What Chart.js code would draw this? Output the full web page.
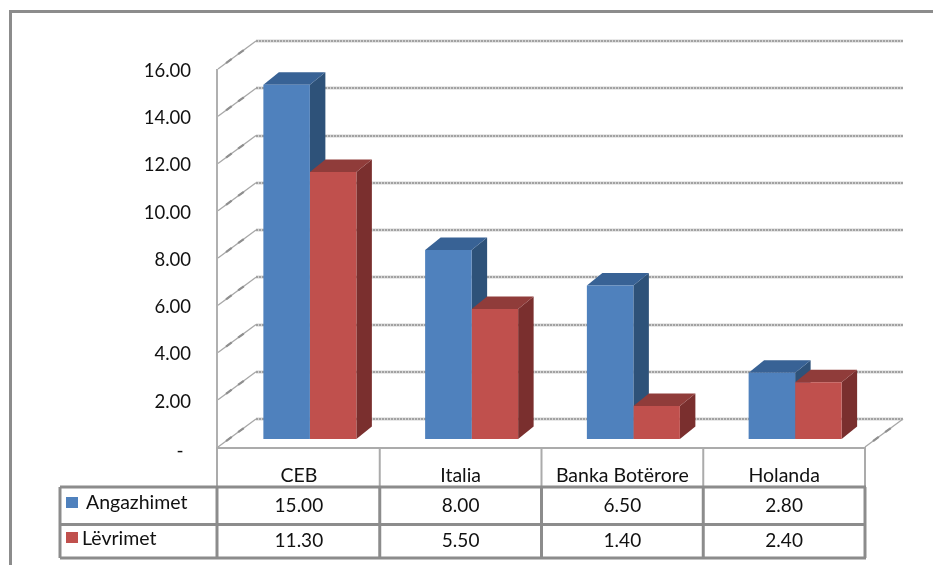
<!DOCTYPE html>
<html>
<head>
<meta charset="utf-8">
<title>Angazhimet dhe Lëvrimet</title>
<script src="https://cdn.jsdelivr.net/npm/chart.js@4/dist/chart.umd.min.js"></script>
<style>
  html, body { margin: 0; padding: 0; background: #fff; }
  #wrap { width: 933px; height: 565px; }
</style>
</head>
<body>
<div id="wrap"><canvas id="chart" width="933" height="565"></canvas></div>
<script>
const categories = ['CEB', 'Italia', 'Banka Botërore', 'Holanda'];
const seriesNames = ['Angazhimet', 'Lëvrimet'];
const angazhimet = [15.00, 8.00, 6.50, 2.80];
const levrimet = [11.30, 5.50, 1.40, 2.40];
const yTicks = [0, 2, 4, 6, 8, 10, 12, 14, 16];

const FAMILY = 'Lato, sans-serif';
const TEXT = '#111';
const fmt = (v) => v.toFixed(2);

// colours: front, side, top
const blue = { front: '#4F81BD', side: '#2E5279', top: '#386295' };
const red = { front: '#C0504D', side: '#7A2F2E', top: '#903C3A' };

// 3d offsets
const WALL = { x: 38, y: -28 };      // back wall vs front plane
const BAR_SHIFT = { x: 11, y: -8 };  // bars sit a little into the floor
const DEPTH = { x: 15.5, y: -12.5 }; // depth of a bar

function line(ctx, x1, y1, x2, y2) {
  ctx.beginPath();
  ctx.moveTo(x1, y1);
  ctx.lineTo(x2, y2);
  ctx.stroke();
}

// floor/side diagonal: thin light line with the two darker smudges
function diagonal(ctx, x1, y1, x2, y2) {
  ctx.strokeStyle = '#a8a8a8';
  ctx.lineWidth = 1.4;
  ctx.setLineDash([]);
  line(ctx, x1, y1, x2, y2);
  ctx.strokeStyle = '#8f8f8f';
  ctx.lineWidth = 2.2;
  ctx.setLineDash([0, 10, 7, 8, 7, 100]);
  line(ctx, x1, y1, x2, y2);
  ctx.setLineDash([]);
}

const wallPlugin = {
  id: 'wall',
  beforeDraw(chart) {
    const { ctx, chartArea: a, scales: { y } } = chart;
    ctx.save();
    // outer frame of the picture
    ctx.strokeStyle = '#8c8c8c';
    ctx.lineWidth = 3;
    line(ctx, 10.5, 11.5, 933, 11.5);
    line(ctx, 10.5, 10, 10.5, 565);
    // back wall lines and the diagonals running to the axis
    yTicks.forEach((v) => {
      const py = y.getPixelForValue(v);
      const by = Math.round(py + WALL.y);
      ctx.strokeStyle = '#d4d4d4';
      ctx.lineWidth = 3;
      line(ctx, a.left + WALL.x, by, a.right + WALL.x, by);
      ctx.strokeStyle = '#a2a2a2';
      ctx.lineWidth = 2;
      ctx.setLineDash([2, 1]);
      line(ctx, a.left + WALL.x, by, a.right + WALL.x, by);
      ctx.setLineDash([]);
      diagonal(ctx, a.left, py, a.left + WALL.x, py + WALL.y);
    });
    const y0 = y.getPixelForValue(0);
    diagonal(ctx, a.right, y0, a.right + WALL.x, y0 + WALL.y);
    // value axis
    ctx.strokeStyle = '#b0b0b0';
    ctx.lineWidth = 2;
    line(ctx, a.left - 1, a.top, a.left - 1, a.bottom + 1);
    ctx.restore();
  }
};

const barPlugin = {
  id: 'bars3d',
  beforeDatasetsDraw(chart) {
    const { ctx } = chart;
    ctx.save();
    ctx.translate(BAR_SHIFT.x, BAR_SHIFT.y);
    [0, 1].forEach((d) => {
      const c = d === 0 ? blue : red;
      chart.getDatasetMeta(d).data.forEach((bar) => {
        const l = bar.x - bar.width / 2;
        const r = bar.x + bar.width / 2;
        // side face
        ctx.fillStyle = c.side;
        ctx.beginPath();
        ctx.moveTo(r, bar.y);
        ctx.lineTo(r + DEPTH.x, bar.y + DEPTH.y);
        ctx.lineTo(r + DEPTH.x, bar.base + DEPTH.y);
        ctx.lineTo(r, bar.base);
        ctx.closePath();
        ctx.fill();
        // top face
        ctx.fillStyle = c.top;
        ctx.beginPath();
        ctx.moveTo(l, bar.y);
        ctx.lineTo(l + DEPTH.x, bar.y + DEPTH.y);
        ctx.lineTo(r + DEPTH.x, bar.y + DEPTH.y);
        ctx.lineTo(r, bar.y);
        ctx.closePath();
        ctx.fill();
      });
    });
    // left translated for the library's own front faces
  },
  afterDatasetsDraw(chart) {
    chart.ctx.restore();
  }
};

const tablePlugin = {
  id: 'dataTable',
  afterDraw(chart) {
    const { ctx, chartArea: a, scales: { x } } = chart;
    const step = (a.right - a.left) / categories.length;
    const rows = [487, 524.5, 558];
    const tableLeft = 60;
    ctx.save();
    // upper row, lighter
    ctx.strokeStyle = '#ababab';
    ctx.lineWidth = 2;
    line(ctx, a.left - 1, a.bottom + 1, a.right, a.bottom + 1);
    for (let i = 0; i <= categories.length; i++) {
      const px = a.left + step * i - (i === 0 ? 1 : 0);
      line(ctx, px, a.bottom, px, rows[0]);
    }
    // value rows
    ctx.strokeStyle = '#8c8c8c';
    ctx.lineWidth = 3;
    rows.forEach((r) => line(ctx, tableLeft, r, a.right + 1, r));
    for (let i = 0; i <= categories.length; i++) {
      const px = a.left + step * i - (i === 0 ? 1 : 0);
      line(ctx, px, rows[0], px, rows[2]);
    }
    line(ctx, tableLeft, rows[0], tableLeft, rows[2]);
    // zero label of the value axis sits lower than the rest
    ctx.textBaseline = 'middle';
    ctx.textAlign = 'center';
    ctx.fillStyle = TEXT;
    ctx.font = '19px ' + FAMILY;
    ctx.fillText('-', 180, 451);
    // row headers with the colour keys
    ctx.textAlign = 'left';
    ctx.fillStyle = blue.front;
    ctx.fillRect(66, 497, 12, 11);
    ctx.fillStyle = red.front;
    ctx.fillRect(66, 532, 12, 11);
    ctx.fillStyle = TEXT;
    ctx.font = '19.5px ' + FAMILY;
    ctx.fillText(seriesNames[0], 86, 503);
    ctx.fillText(seriesNames[1], 82, 539);
    // values
    ctx.font = '19px ' + FAMILY;
    ctx.textAlign = 'center';
    [angazhimet, levrimet].forEach((vals, r) => {
      vals.forEach((v, i) => {
        ctx.fillText(fmt(v), x.getPixelForValue(i), r === 0 ? 505.5 : 540.5);
      });
    });
    ctx.restore();
  }
};

new Chart(document.getElementById('chart'), {
  type: 'bar',
  data: {
    labels: categories,
    datasets: [
      { label: seriesNames[0], data: angazhimet, backgroundColor: blue.front },
      { label: seriesNames[1], data: levrimet, backgroundColor: red.front }
    ]
  },
  options: {
    responsive: false,
    animation: false,
    layout: { padding: { left: 0, right: 68, top: 69, bottom: 0 } },
    datasets: { bar: { categoryPercentage: 0.575, barPercentage: 1, borderWidth: 0 } },
    plugins: { legend: { display: false }, tooltip: { enabled: false } },
    scales: {
      x: {
        grid: { display: false },
        border: { display: false },
        afterFit: (s) => { s.height = 118; },
        ticks: { font: { family: 'Lato', size: 19.5 }, color: TEXT, padding: 9, maxRotation: 0 }
      },
      y: {
        min: 0,
        max: 16,
        grid: { display: false },
        border: { display: false },
        afterFit: (s) => { s.width = 218; },
        afterBuildTicks: (s) => { s.ticks = yTicks.map((v) => ({ value: v })); },
        ticks: {
          font: { family: 'Lato', size: 18.5 },
          color: TEXT,
          padding: 19,
          labelOffset: 2,
          callback: (v) => (v === 0 ? '' : fmt(v))
        }
      }
    }
  },
  plugins: [wallPlugin, barPlugin, tablePlugin]
});
</script>
</body>
</html>
